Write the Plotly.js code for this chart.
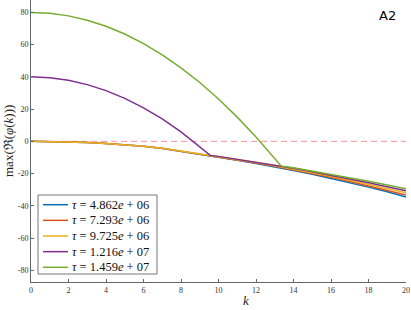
<!DOCTYPE html>
<html><head><meta charset="utf-8">
<script src="https://cdn.plot.ly/plotly-3.0.1.min.js"></script>
<style>html,body{margin:0;padding:0;background:#fff}#chart{width:411px;height:310px}</style>
</head><body><div id="chart"></div>
<script>
const kGrid = [0,1,2,3,4,5,6,7,8,9,10,11,12,13,14,15,16,17,18,19,20];
const blueVals   = [0,-0.1,-0.36,-0.76,-1.32,-2.04,-3.07,-4.41,-6.16,-8.03,-9.81,-11.72,-13.74,-15.79,-18.06,-20.46,-22.98,-25.64,-28.42,-31.34,-34.5];
const redVals    = [0,-0.1,-0.35,-0.76,-1.31,-2.02,-3.03,-4.35,-6.08,-7.91,-9.66,-11.51,-13.47,-15.44,-17.63,-19.93,-22.34,-24.87,-27.51,-30.27,-33.25];
const yellowVals = [0,-0.1,-0.35,-0.75,-1.3,-2.0,-3.0,-4.3,-6.0,-7.8,-9.5,-11.3,-13.2,-15.1,-17.2,-19.4,-21.7,-24.1,-26.6,-29.2,-32.0];
const purpleK    = [0,1,2,3,4,5,6,7,8,9,9.56,10,11,12,13,14,15,16,17,18,19,20];
const purpleVals = [40,39.47,37.87,35.2,31.47,26.68,20.81,13.88,5.89,-3.17,-8.72,-9.34,-11.09,-12.93,-14.76,-16.77,-18.87,-21.06,-23.33,-25.69,-28.13,-30.75];
const greenK     = [0,1,2,3,4,5,6,7,8,9,10,11,12,13,13.35,14,15,16,17,18,19,20];
const greenVals  = [80,79.46,77.85,75.17,71.41,66.58,60.67,53.69,45.63,36.5,26.3,15.02,2.67,-10.75,-15.4,-16.34,-18.35,-20.42,-22.57,-24.78,-27.06,-29.5];
const seriesNames = ["<i>τ</i> = 4.862<i>e</i> + 06","<i>τ</i> = 7.293<i>e</i> + 06","<i>τ</i> = 9.725<i>e</i> + 06","<i>τ</i> = 1.216<i>e</i> + 07","<i>τ</i> = 1.459<i>e</i> + 07"];
const colors = ["#0072BD","#D95319","#EDB120","#7E2F8E","#77AC30"];
const xTicks = [0,2,4,6,8,10,12,14,16,18,20];
const yTicks = [-80,-60,-40,-20,0,20,40,60,80];

const xs = [kGrid,kGrid,kGrid,purpleK,greenK];
const ys = [blueVals,redVals,yellowVals,purpleVals,greenVals];
const traces = ys.map((y,i)=>({x:xs[i],y:y,type:'scatter',mode:'lines',name:seriesNames[i],line:{color:colors[i],width:1.5},showlegend:false}));

// pixel -> paper helpers (plot area: x 31..406, y 0..282)
const px = p => (p-31)/375;
const py = p => (282-p)/282;

const serif = '"Liberation Serif","DejaVu Serif",serif';
const tickFont = {family:serif,size:8,color:'#333'};

const shapes = [
  {type:'line',xref:'x',yref:'y',x0:0,x1:20,y0:0,y1:0,line:{color:'rgba(255,70,70,0.6)',width:1,dash:'6px,4px'},layer:'below'},
  {type:'rect',xref:'paper',yref:'paper',x0:px(38),x1:px(157),y0:py(274),y1:py(195),line:{color:'#777',width:1},fillcolor:'#fff',layer:'above'}
];
const annotations = [
  {text:'A2',xref:'paper',yref:'paper',x:px(387),y:py(15),xanchor:'center',yanchor:'middle',showarrow:false,
   font:{family:'"DejaVu Sans",sans-serif',size:13,color:'#000'}},
  {text:'max(ℜ(<i>φ</i>(<i>k</i>)))',xref:'paper',yref:'paper',x:px(8),y:0.5,xanchor:'center',yanchor:'middle',textangle:-90,showarrow:false,
   font:{family:serif,size:13,color:'#222'}},
  {text:'<i>k</i>',xref:'paper',yref:'paper',x:px(246),y:py(300),xanchor:'center',yanchor:'middle',showarrow:false,
   font:{family:serif,size:13,color:'#222'}}
];
seriesNames.forEach((nm,i)=>{
  const rowY = 204.7 + i*15.65;
  shapes.push({type:'line',xref:'paper',yref:'paper',x0:px(43),x1:px(68),y0:py(rowY),y1:py(rowY),line:{color:colors[i],width:1.5},layer:'above'});
  annotations.push({text:nm,xref:'paper',yref:'paper',x:px(70),y:py(rowY),xanchor:'left',yanchor:'middle',showarrow:false,
    font:{family:serif,size:12.5,color:'#111'}});
});

const layout = {
  width:411,height:310,
  margin:{l:31,r:5,t:0,b:28},
  paper_bgcolor:'#fff',plot_bgcolor:'#fff',
  showlegend:false,
  xaxis:{range:[0,20],tickvals:xTicks,ticktext:xTicks.map(String),ticks:'inside',ticklen:3,tickcolor:'#666',
         showline:true,linecolor:'#666',linewidth:1,showgrid:false,zeroline:false,tickfont:tickFont,mirror:false},
  yaxis:{range:[-87.3,87.7],tickvals:yTicks,ticktext:yTicks.map(String),ticks:'inside',ticklen:3,tickcolor:'#666',
         showline:true,linecolor:'#666',linewidth:1,showgrid:false,zeroline:false,tickfont:tickFont,mirror:false},
  shapes:shapes,
  annotations:annotations
};
Plotly.newPlot('chart',traces,layout,{staticPlot:true,displayModeBar:false});
</script></body></html>
